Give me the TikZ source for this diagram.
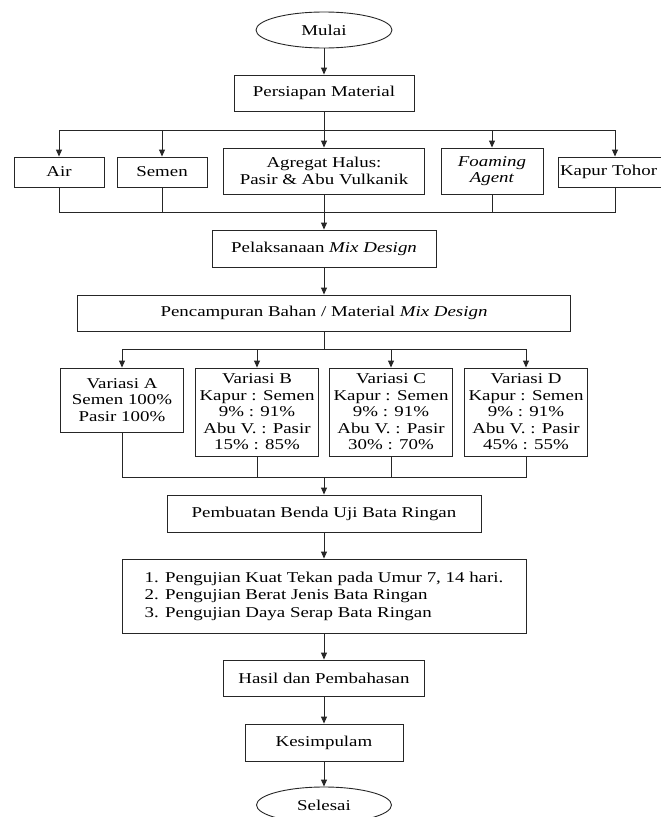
\documentclass[tikz,border=0pt]{standalone}
\usepackage{fontspec}
\setmainfont{Liberation Serif}[FakeStretch=1.26]
\usetikzlibrary{arrows.meta,positioning,shapes.geometric}

\begin{document}
\begin{tikzpicture}[
  x=1pt,y=-1pt,
  every node/.style={font=\fontsize{15}{16.5}\selectfont},
  flowbox/.style={draw=black!85,line width=0.9pt,minimum height=36pt,align=center,inner sep=0pt},
  termbox/.style={draw=black!85,line width=0.9pt,ellipse,minimum width=136pt,minimum height=36pt,inner sep=0pt},
  arr/.style={-{Triangle[length=7pt,width=6pt]},line width=0.9pt,black!85},
  ln/.style={line width=0.9pt,black!85},
]
  \useasboundingbox (0,0) rectangle (661,817);

  % start and preparation
  \node[termbox] (mulai) at (324,30) {Mulai};
  \node[flowbox,minimum width=180pt] (persiapan) at (324,93) {Persiapan Material};

  % materials
  \node[flowbox,minimum width=90pt,minimum height=30pt] (air) at (59,172) {Air};
  \node[flowbox,minimum width=90pt,minimum height=30pt] (semen) at (162,172) {Semen};
  \node[flowbox,minimum width=201pt,minimum height=46pt] (agregat) at (324,171)
    {Agregat Halus:\\Pasir \& Abu Vulkanik};
  \node[flowbox,minimum width=102pt,minimum height=46pt] (foaming) at (492,171)
    {\textit{Foaming}\\\textit{Agent}};
  \node[flowbox,minimum width=114pt,minimum height=30pt,text width=110pt,align=left,
        inner xsep=2pt] (kapur) at (615,172) {Kapur Tohor};

  \coordinate (split1) at (324,130);
  \coordinate (join1) at (324,212);

  % mix design
  \node[flowbox,minimum width=224pt,minimum height=37pt] (pelaksanaan) at (324,248.5)
    {Pelaksanaan \textit{Mix Design}};
  \node[flowbox,minimum width=493pt] (pencampuran) at (324,313)
    {Pencampuran Bahan / Material \textit{Mix Design}};

  \coordinate (split2) at (324,349);
  \coordinate (join2) at (324,477);

  % variations
  \node[flowbox,minimum width=123pt,minimum height=64pt] (varA) at (122,400)
    {Variasi A\\Semen 100\%\\Pasir 100\%};
  \node[flowbox,minimum width=123pt,minimum height=88pt] (varB) at (257,412)
    {Variasi B\\Kapur : Semen\\9\% : 91\%\\Abu V. : Pasir\\15\% : 85\%};
  \node[flowbox,minimum width=123pt,minimum height=88pt] (varC) at (391,412)
    {Variasi C\\Kapur : Semen\\9\% : 91\%\\Abu V. : Pasir\\30\% : 70\%};
  \node[flowbox,minimum width=123pt,minimum height=88pt] (varD) at (526,412)
    {Variasi D\\Kapur : Semen\\9\% : 91\%\\Abu V. : Pasir\\45\% : 55\%};

  % specimens and tests
  \node[flowbox,minimum width=314pt,minimum height=37pt] (pembuatan) at (324,513.5)
    {Pembuatan Benda Uji Bata Ringan};
  \node[flowbox,minimum width=404pt,minimum height=74pt,align=left,
        font=\fontsize{15}{17.5}\selectfont] (pengujian) at (324,596)
    {1. Pengujian Kuat Tekan pada Umur 7, 14 hari.\\
     2. Pengujian Berat Jenis Bata Ringan\\
     3. Pengujian Daya Serap Bata Ringan};

  % end
  \node[flowbox,minimum width=201pt] (hasil) at (324,678) {Hasil dan Pembahasan};
  \node[flowbox,minimum width=158pt,minimum height=37pt] (kesimpulan) at (324,742.5) {Kesimpulam};
  \node[termbox,minimum width=135pt] (selesai) at (324,805) {Selesai};

  % Arrows
  \draw[arr] (mulai) -- (persiapan);
  \draw[arr] (persiapan) -- (agregat);
  \draw[arr] (split1) -| (air);
  \draw[arr] (split1) -| (semen);
  \draw[arr] (split1) -| (foaming);
  \draw[arr] (split1) -| (kapur);
  \draw[ln] (air) |- (join1);
  \draw[ln] (semen) |- (join1);
  \draw[ln] (foaming) |- (join1);
  \draw[ln] (kapur) |- (join1);
  \draw[arr] (agregat) -- (pelaksanaan);
  \draw[arr] (pelaksanaan) -- (pencampuran);

  \draw[ln] (pencampuran) -- (split2);
  \draw[arr] (split2) -| (varA);
  \draw[arr] (split2) -| (varB);
  \draw[arr] (split2) -| (varC);
  \draw[arr] (split2) -| (varD);
  \draw[ln] (varA) |- (join2);
  \draw[ln] (varB) |- (join2);
  \draw[ln] (varC) |- (join2);
  \draw[ln] (varD) |- (join2);
  \draw[arr] (join2) -- (pembuatan);

  \draw[arr] (pembuatan) -- (pengujian);
  \draw[arr] (pengujian) -- (hasil);
  \draw[arr] (hasil) -- (kesimpulan);
  \draw[arr] (kesimpulan) -- (selesai);
\end{tikzpicture}
\end{document}
